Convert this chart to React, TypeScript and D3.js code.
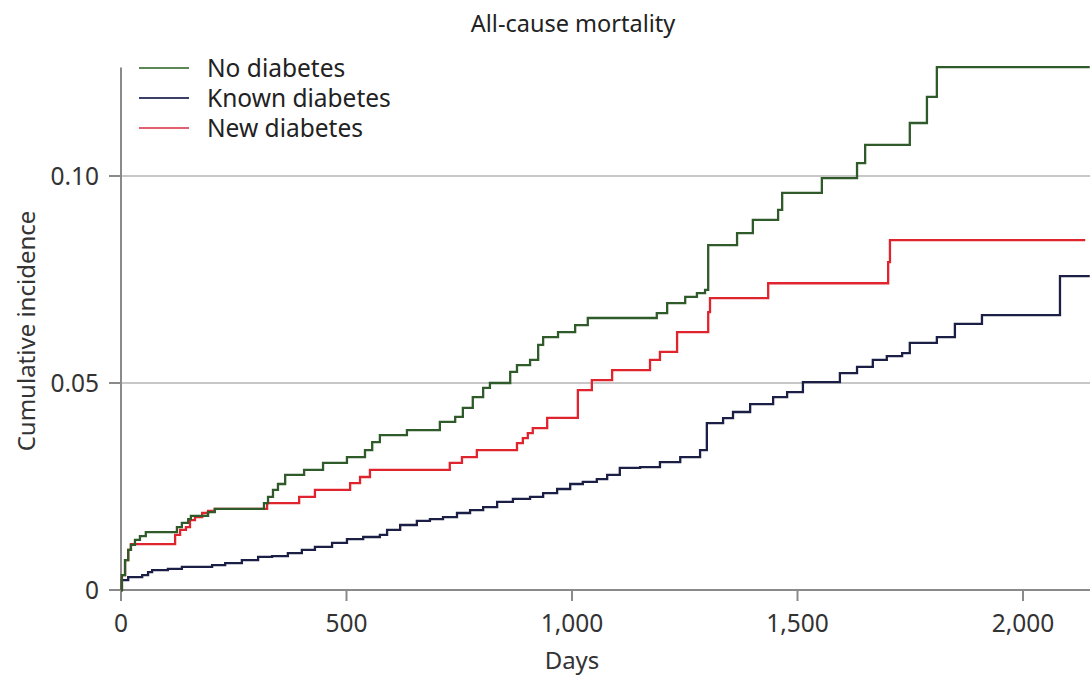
import React from "react";
import * as d3 from "d3";

const title = "All-cause mortality";
const xLabel = "Days";
const yLabel = "Cumulative incidence";
const xTicks = [0, 500, 1000, 1500, 2000];
const yTicks = [0, 0.05, 0.1];
const yTickLabels = ["0", "0.05", "0.10"];
const seriesNames = ["No diabetes", "Known diabetes", "New diabetes"];

// [day, cumulative incidence] step points (step-after)
const noDiabetes: [number, number][] = [
  [0, 0], [2, 0.0036], [9, 0.0072], [16, 0.0097], [22, 0.0109], [31, 0.0121], [42, 0.013],
  [55, 0.014], [124, 0.0152], [135, 0.0162], [149, 0.0171], [155, 0.0179], [193, 0.0188],
  [208, 0.0196], [317, 0.021], [326, 0.0225], [337, 0.0242], [348, 0.0256], [364, 0.0278],
  [406, 0.029], [448, 0.0307], [501, 0.0321], [541, 0.0338], [557, 0.0357], [574, 0.0374],
  [634, 0.0386], [707, 0.0406], [741, 0.0418], [758, 0.044], [780, 0.0466], [803, 0.0488],
  [818, 0.05], [863, 0.0527], [878, 0.0543], [907, 0.0556], [925, 0.0592], [936, 0.0611],
  [969, 0.0623], [1007, 0.064], [1035, 0.0657], [1188, 0.0669], [1211, 0.0693], [1251, 0.0708],
  [1277, 0.0717], [1295, 0.0725], [1302, 0.0833], [1366, 0.0862], [1401, 0.0894],
  [1457, 0.0918], [1466, 0.0959], [1554, 0.0995], [1632, 0.1031], [1650, 0.1075],
  [1749, 0.1128], [1787, 0.1191], [1809, 0.1263], [2148, 0.1263],
];

const knownDiabetes: [number, number][] = [
  [0, 0], [2, 0.0024], [16, 0.0031], [47, 0.0036], [60, 0.0043], [69, 0.0048], [104, 0.0051],
  [135, 0.0056], [202, 0.006], [231, 0.0065], [268, 0.0072], [304, 0.008], [335, 0.0082],
  [370, 0.0089], [401, 0.0097], [430, 0.0104], [468, 0.0114], [501, 0.0123], [537, 0.0128],
  [574, 0.0133], [590, 0.0145], [619, 0.0157], [656, 0.0167], [685, 0.0171], [714, 0.0176],
  [745, 0.0186], [774, 0.0193], [803, 0.02], [834, 0.0213], [869, 0.022], [907, 0.0225],
  [936, 0.0234], [967, 0.0244], [996, 0.0256], [1024, 0.0261], [1055, 0.0268], [1078, 0.0278],
  [1106, 0.0295], [1151, 0.0297], [1195, 0.0309], [1240, 0.0321], [1284, 0.0338],
  [1299, 0.0403], [1335, 0.0415], [1357, 0.043], [1395, 0.0449], [1446, 0.0466],
  [1477, 0.0478], [1512, 0.0502], [1594, 0.0524], [1632, 0.0539], [1667, 0.0556],
  [1698, 0.0565], [1732, 0.0572], [1749, 0.0597], [1809, 0.0611], [1849, 0.0643],
  [1909, 0.0664], [2082, 0.0758], [2148, 0.0758],
];

const newDiabetes: [number, number][] = [
  [0, 0], [2, 0.0036], [9, 0.0072], [16, 0.0097], [22, 0.0111], [120, 0.0133], [131, 0.0145],
  [144, 0.0152], [153, 0.0169], [164, 0.0176], [180, 0.0186], [193, 0.0191], [208, 0.0196],
  [324, 0.021], [395, 0.0225], [430, 0.0242], [508, 0.0258], [530, 0.0273], [552, 0.029],
  [729, 0.0307], [756, 0.0321], [789, 0.0338], [878, 0.0355], [891, 0.0367], [902, 0.0379],
  [913, 0.0391], [945, 0.0416], [1013, 0.0483], [1044, 0.0507], [1089, 0.0531],
  [1173, 0.0556], [1195, 0.0575], [1233, 0.0623], [1302, 0.0671], [1306, 0.0705],
  [1435, 0.0741], [1701, 0.0792], [1705, 0.0845], [2138, 0.0845],
];

const seriesData = [noDiabetes, knownDiabetes, newDiabetes];
const seriesColors = ["#2f5a2a", "#1b1e45", "#e0242e"];
const legendColors = ["#5c8858", "#3c4068", "#e26070"];

const W = 1090;
const H = 679;
const FONT = "'Noto Sans', 'Open Sans', sans-serif";

export default function App() {
  const x = d3.scaleLinear().domain([0, 2000]).range([121, 1023]);
  const y = d3.scaleLinear().domain([0, 0.1]).range([590, 176]);
  const yTop = y(0.1262);
  const line = d3
    .line<[number, number]>()
    .x((d) => x(d[0]))
    .y((d) => y(d[1]))
    .curve(d3.curveStepAfter);
  const fmtX = d3.format(",");

  return (
    <svg
      width={W}
      height={H}
      style={{ position: "absolute", left: 0, top: 0, background: "#fff" }}
      fontFamily={FONT}
    >
      <rect x={0} y={0} width={W} height={H} fill="#fff" />
      <text x={573} y={32} textAnchor="middle" fontSize={23.5} fill="#222">
        {title}
      </text>

      {/* gridlines */}
      {yTicks.slice(1).map((t) => (
        <line key={t} x1={x(0)} x2={W} y1={y(t)} y2={y(t)} stroke="#b4b4b4" strokeWidth={1.6} />
      ))}

      {/* axes */}
      <line x1={x(0)} x2={x(0)} y1={yTop} y2={y(0)} stroke="#8a8a8a" strokeWidth={2} />
      <line x1={109} x2={W} y1={y(0)} y2={y(0)} stroke="#8a8a8a" strokeWidth={2} />
      {yTicks.map((t, i) => (
        <g key={t}>
          <line x1={109} x2={x(0)} y1={y(t)} y2={y(t)} stroke="#8a8a8a" strokeWidth={2} />
          <text x={99} y={y(t)} dy="0.35em" textAnchor="end" fontSize={24.5} fill="#333">
            {yTickLabels[i]}
          </text>
        </g>
      ))}
      {xTicks.map((t) => (
        <g key={t}>
          <line x1={x(t)} x2={x(t)} y1={y(0)} y2={y(0) + 11} stroke="#8a8a8a" strokeWidth={2} />
          <text x={x(t)} y={632} textAnchor="middle" fontSize={24.5} fill="#333">
            {fmtX(t)}
          </text>
        </g>
      ))}
      <text x={572} y={669} textAnchor="middle" fontSize={24} fill="#333">
        {xLabel}
      </text>
      <text
        transform={`translate(35, 331) rotate(-90)`}
        textAnchor="middle"
        fontSize={24}
        fill="#333"
      >
        {yLabel}
      </text>

      {/* curves */}
      {[1, 2, 0].map((i) => (
        <path
          key={i}
          d={line(seriesData[i]) || ""}
          fill="none"
          stroke={seriesColors[i]}
          strokeWidth={2.3}
        />
      ))}

      {/* legend */}
      {seriesNames.map((n, i) => (
        <g key={n} transform={`translate(0, ${68 + i * 30})`}>
          <line x1={139} x2={189} y1={0} y2={0} stroke={legendColors[i]} strokeWidth={2.2} />
          <text x={207} y={9} fontSize={24.5} fill="#222">
            {n}
          </text>
        </g>
      ))}
    </svg>
  );
}
